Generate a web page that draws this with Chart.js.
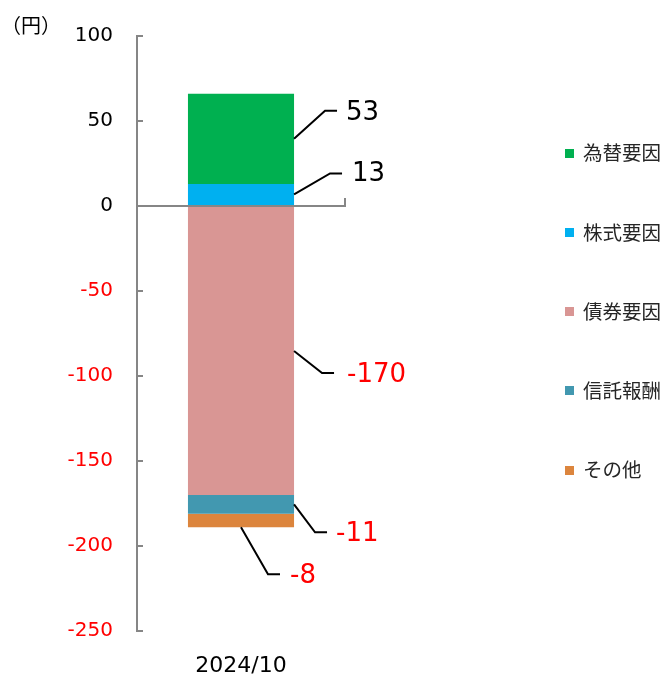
<!DOCTYPE html>
<html><head><meta charset="utf-8">
<script src="https://cdn.jsdelivr.net/npm/chart.js@4"></script>
<style>html,body{margin:0;padding:0;background:#fff;overflow:hidden}#wrap{width:667px;height:677px;position:relative}</style>
</head><body><div id="wrap"><canvas id="c" width="667" height="677"></canvas></div>
<script>
const categories = ['2024/10'];
const seriesNames = ['為替要因', '株式要因', '債券要因', '信託報酬', 'その他'];
const fxValues = [53];
const equityValues = [13];
const bondValues = [-170];
const feeValues = [-11];
const otherValues = [-8];
const yTicks = [100, 50, 0, -50, -100, -150, -200, -250];
const unitLabel = '（円）';

const colors = {fx: '#00B050', equity: '#00B0F0', bond: '#D99694', fee: '#4298B0', other: '#DC853D'};

// stacking order: closest to zero first
const datasets = [
  {key: 'equity', label: seriesNames[1], data: equityValues, backgroundColor: colors.equity},
  {key: 'fx', label: seriesNames[0], data: fxValues, backgroundColor: colors.fx},
  {key: 'bond', label: seriesNames[2], data: bondValues, backgroundColor: colors.bond},
  {key: 'fee', label: seriesNames[3], data: feeValues, backgroundColor: colors.fee},
  {key: 'other', label: seriesNames[4], data: otherValues, backgroundColor: colors.other}
];
const legendOrder = ['fx', 'equity', 'bond', 'fee', 'other'];

// leader line geometry (relative to each bar segment)
const leaders = {
  fx:     {anchor: 'right', dx: 31, dy: -28, len: 12, gap: 9, ly: 2},
  equity: {anchor: 'right', dx: 36, dy: -21, len: 12, gap: 10, ly: 1},
  bond:   {anchor: 'right', dx: 28, dy: 22, len: 12, gap: 13, ly: 2},
  fee:    {anchor: 'right', dx: 21, dy: 28, len: 12, gap: 9, ly: 2},
  other:  {anchor: 'bottom', dx: 27, dy: 47, len: 12, gap: 10, ly: 2}
};

const extras = {
  id: 'extras',
  afterDraw(chart) {
    const ctx = chart.ctx;
    const ys = chart.scales.y;
    const area = chart.chartArea;
    ctx.save();
    // inward ticks on y axis
    ctx.strokeStyle = '#868686';
    ctx.lineWidth = 2;
    yTicks.forEach(v => {
      const p = Math.round(ys.getPixelForValue(v));
      ctx.beginPath();
      ctx.moveTo(area.left, p);
      ctx.lineTo(area.left + 6, p);
      ctx.stroke();
    });
    // small tick at right end of zero line
    const z = ys.getPixelForValue(0);
    ctx.beginPath();
    ctx.moveTo(area.right, z + 1);
    ctx.lineTo(area.right, z - 8);
    ctx.stroke();

    // leader lines and labels
    chart.data.datasets.forEach((ds, i) => {
      const el = chart.getDatasetMeta(i).data[0];
      const L = leaders[ds.key];
      if (!el || !L) return;
      const top = Math.min(el.y, el.base), bot = Math.max(el.y, el.base);
      let sx, sy;
      if (L.anchor === 'right') { sx = el.x + el.width / 2; sy = (top + bot) / 2; }
      else { sx = el.x; sy = bot; }
      const ex = sx + L.dx, ey = sy + L.dy;
      ctx.strokeStyle = '#000';
      ctx.lineWidth = 2;
      ctx.beginPath();
      ctx.moveTo(sx, sy);
      ctx.lineTo(ex, ey);
      ctx.lineTo(ex + L.len, ey);
      ctx.stroke();
      const v = ds.data[0];
      ctx.fillStyle = v < 0 ? '#FF0000' : '#000000';
      ctx.font = '26px "DejaVu Sans"';
      ctx.textAlign = 'left';
      ctx.textBaseline = 'middle';
      ctx.fillText(String(v), ex + L.len + L.gap, ey + L.ly);
    });

    // legend
    ctx.font = '19.5px "Noto Sans CJK JP"';
    ctx.textBaseline = 'middle';
    ctx.textAlign = 'left';
    legendOrder.forEach((k, j) => {
      const ds = chart.data.datasets.find(d => d.key === k);
      const cy = 153 + j * 79.25;
      ctx.fillStyle = ds.backgroundColor;
      ctx.fillRect(565, Math.round(cy - 4.5), 9, 9);
      ctx.fillStyle = '#262626';
      ctx.fillText(ds.label, 583, cy);
    });

    // unit label
    ctx.font = '20px "Noto Sans CJK JP"';
    ctx.fillStyle = '#000';
    ctx.textBaseline = 'middle';
    ctx.fillText(unitLabel, 1, 25);
    ctx.restore();
  }
};

new Chart(document.getElementById('c'), {
  type: 'bar',
  data: {labels: categories, datasets: datasets},
  options: {
    responsive: false,
    animation: false,
    devicePixelRatio: 1,
    layout: {padding: {left: 0, right: 322, top: 35, bottom: 0}},
    plugins: {legend: {display: false}, tooltip: {enabled: false}, title: {display: false}},
    datasets: {bar: {categoryPercentage: 1, barPercentage: 0.51}},
    scales: {
      x: {
        stacked: true,
        grid: {display: false},
        border: {display: false},
        ticks: {color: '#000', font: {family: 'DejaVu Sans', size: 22}, padding: 14},
        afterFit(s) { s.height = 46; }
      },
      y: {
        stacked: true,
        min: -250, max: 100,
        afterBuildTicks(s) { s.ticks = yTicks.map(v => ({value: v})); },
        ticks: {
          color: c => (c.tick.value < 0 ? '#FF0000' : '#000000'),
          font: {family: 'DejaVu Sans', size: 20},
          padding: 24
        },
        grid: {
          drawTicks: false,
          color: c => (c.tick && c.tick.value === 0 ? '#868686' : 'rgba(0,0,0,0)'),
          lineWidth: 2
        },
        border: {display: true, color: '#868686', width: 2},
        afterFit(s) { s.width = 137; }
      }
    }
  },
  plugins: [extras]
});
</script>
</body></html>
